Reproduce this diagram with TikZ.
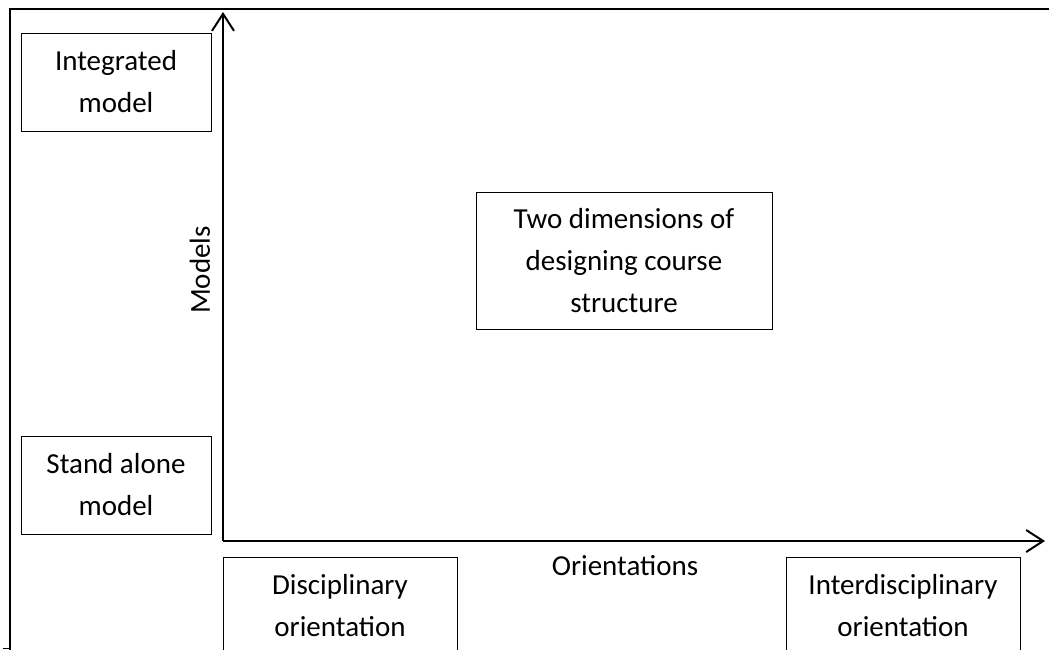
\documentclass[tikz,border=0pt]{standalone}
\usepackage{fontspec}
\setmainfont{Carlito}
\usetikzlibrary{arrows.meta,positioning}

\begin{document}
\begin{tikzpicture}[
        x=1pt,
        y=-1pt,
        font=\fontsize{29}{42}\selectfont,
        frame/.style={line width=1.8pt},
        axis/.style={-{Straight Barb[length=17pt,width=22pt]}, line width=2pt},
        box/.style={draw, line width=0.9pt, align=center, inner sep=0pt},
        sidebox/.style={box, minimum width=190pt, minimum height=98pt},
        footbox/.style={box, minimum width=234pt, minimum height=98pt}
    ]
        \useasboundingbox (0,0) rectangle (1049,650);
        \clip (0,0) rectangle (1049,650);

        % outer frame
        \draw[frame] (10,650) -- (10,9) -- (1049,9);
        \draw[line width=1pt] (3,648) -- (10,648);

        % axes
        \coordinate (origin) at (223,541);
        \coordinate (ytip) at (223,12);
        \coordinate (xtip) at (1045,541);
        \draw[axis] (origin) -- (ytip);
        \draw[axis] (origin) -- (xtip);

        \node[rotate=90] (models) at (200,270) {Models};
        \node (orient) at (625,566) {Orientations};

        % boxes
        \node[sidebox] (integrated) at (116,82) {Integrated\\model};
        \node[sidebox] (standalone) at (116,485) {Stand alone\\model};
        \node[box, minimum width=296pt, minimum height=137pt] (twodim) at (624,260.5)
            {Two dimensions of\\designing course\\structure};
        \node[footbox] (disc) at (340,606) {Disciplinary\\orientation};
        \node[footbox] (inter) at (903,606) {Interdisciplinary\\orientation};
    \end{tikzpicture}
\end{document}
